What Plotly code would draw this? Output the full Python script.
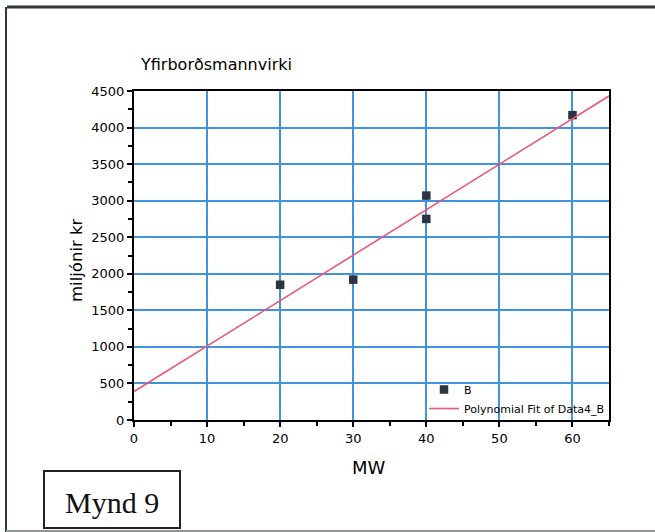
import numpy as np
import plotly.graph_objects as go

# Data
mw = [20, 30, 40, 40, 60]
cost = [1850, 1920, 3070, 2750, 4170]
x_ticks = [0, 10, 20, 30, 40, 50, 60]
y_ticks = [0, 500, 1000, 1500, 2000, 2500, 3000, 3500, 4000, 4500]
x_range = [0, 65]
y_range = [0, 4500]

coef = np.polyfit(mw, cost, 1)
fit_x = np.array(x_range, dtype=float)
fit_y = np.polyval(coef, fit_x)

W, H = 655, 532
L, R, T, B = 134, 609, 91, 420  # plot area in pixels


def px(xp):
    return (xp - L) / (R - L)


def py(yp):
    return (B - yp) / (B - T)


fig = go.Figure()
fig.add_trace(go.Scatter(
    x=mw, y=cost, mode="markers", name="B",
    marker=dict(symbol="square", size=8.5, color="#2b3440",
                line=dict(width=0)),
))
fig.add_trace(go.Scatter(
    x=fit_x, y=fit_y, mode="lines", name="Polynomial Fit of Data4_B",
    line=dict(color="#ee5578", width=1.6),
))

font = "DejaVu Sans, Verdana, sans-serif"
axis_common = dict(
    showline=True, mirror=True, linecolor="black", linewidth=2,
    ticks="outside", ticklen=5, tickwidth=1.5, tickcolor="black",
    showgrid=True, gridcolor="#3f94dc", gridwidth=1.5,
    zeroline=False,
    tickfont=dict(family=font, size=13, color="black"),
)

fig.update_xaxes(range=x_range, tickvals=x_ticks,
                 minor=dict(ticks="outside", ticklen=4, dtick=5, tick0=0,
                            tickcolor="black", tickwidth=1.5, showgrid=False),
                 **axis_common)
fig.update_yaxes(range=y_range, tickvals=y_ticks,
                 minor=dict(ticks="outside", ticklen=4, dtick=250, tick0=0,
                            tickcolor="black", tickwidth=1.5, showgrid=False),
                 **axis_common)

shapes = [
    # outer frame
    dict(type="line", xref="paper", yref="paper",
         x0=px(7), x1=px(655), y0=py(7), y1=py(7),
         line=dict(color="#2e3a36", width=3)),
    dict(type="line", xref="paper", yref="paper",
         x0=px(6), x1=px(6), y0=py(7), y1=py(532),
         line=dict(color="#2e3a36", width=2)),
    dict(type="line", xref="paper", yref="paper",
         x0=px(6), x1=px(655), y0=py(531), y1=py(531),
         line=dict(color="#8a9a92", width=2)),
    # Mynd 9 box
    dict(type="rect", xref="paper", yref="paper",
         x0=px(44), x1=px(180), y0=py(471), y1=py(528),
         line=dict(color="#222", width=2), fillcolor="white"),
]

annotations = [
    dict(text="Mynd 9", xref="paper", yref="paper", x=px(112), y=py(502),
         showarrow=False, xanchor="center", yanchor="middle",
         font=dict(family="Liberation Serif, Times New Roman, serif",
                   size=30, color="#111")),
    dict(text="miljónir kr", xref="paper", yref="paper", x=px(76), y=py(260),
         showarrow=False, textangle=-90, xanchor="center", yanchor="middle",
         font=dict(family=font, size=16.5, color="black")),
    dict(text="MW", xref="paper", yref="paper", x=px(369), y=py(467),
         showarrow=False, xanchor="center", yanchor="middle",
         font=dict(family=font, size=18, color="black")),
]

fig.update_layout(
    width=W, height=H,
    margin=dict(l=L, r=W - R, t=T, b=H - B, pad=0),
    paper_bgcolor="white", plot_bgcolor="white",
    title=dict(text="Yfirborðsmannvirki", x=141 / W, xanchor="left",
               xref="container", y=1 - 64 / H, yref="container",
               yanchor="middle",
               font=dict(family=font, size=16, color="black")),
    showlegend=True,
    legend=dict(x=px(424), y=py(375), xanchor="left", yanchor="top",
                bgcolor="rgba(0,0,0,0)", borderwidth=0,
                font=dict(family=font, size=11, color="black"),
                itemwidth=30, tracegroupgap=0),
    shapes=shapes,
    annotations=annotations,
)

fig.write_html("out.html")
